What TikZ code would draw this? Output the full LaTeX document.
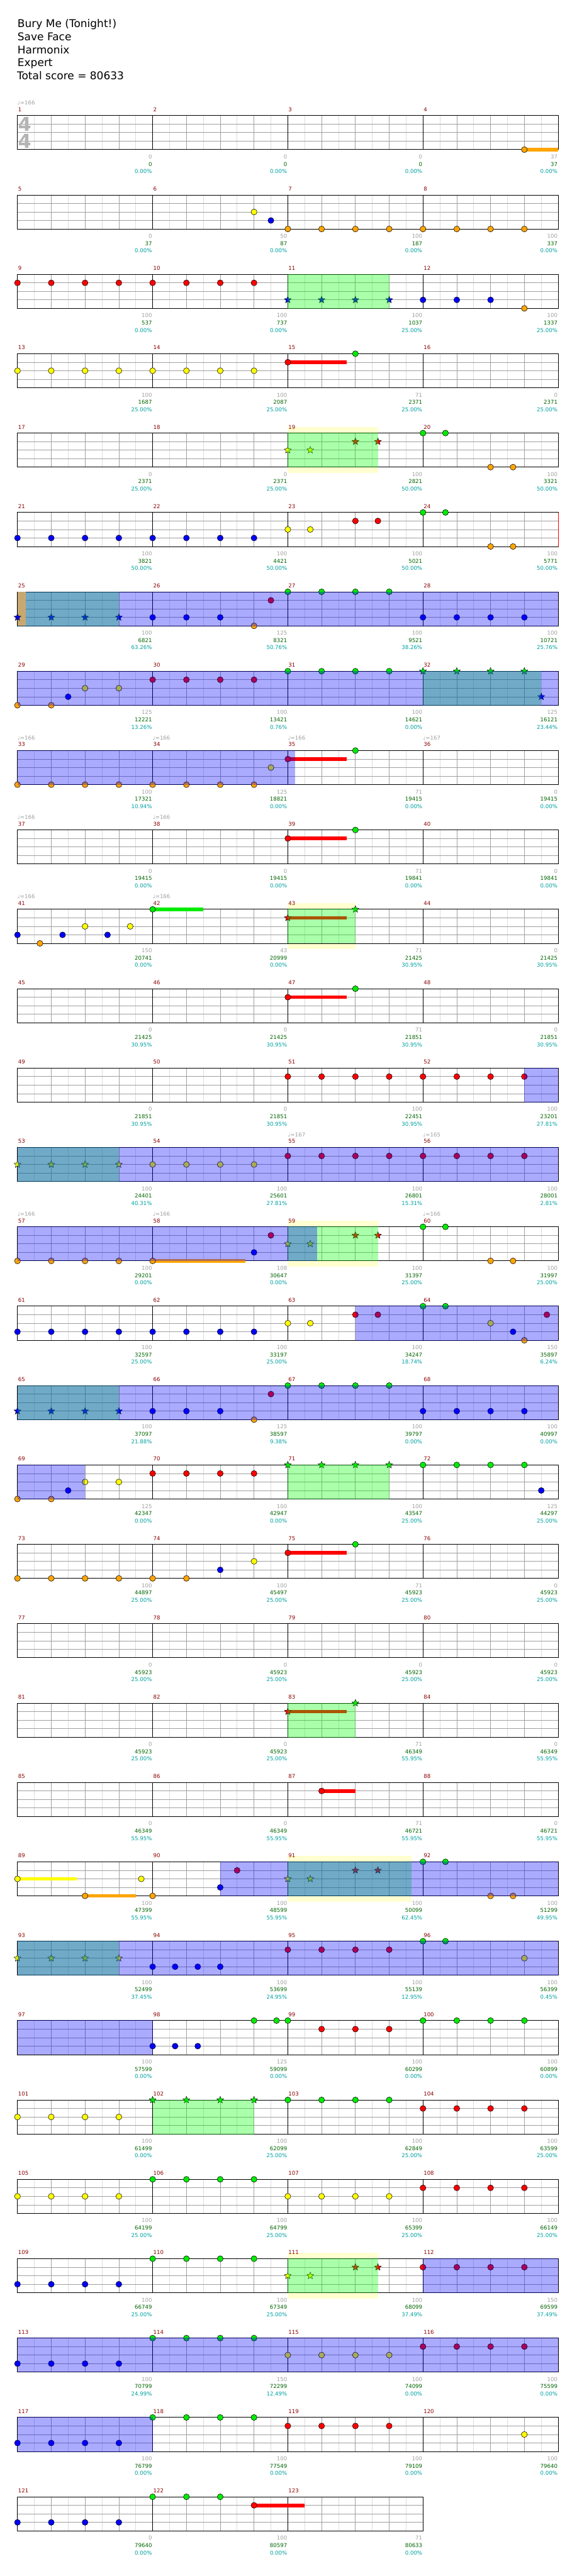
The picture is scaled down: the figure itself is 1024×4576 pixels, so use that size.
\documentclass[tikz,border=0pt]{standalone}
\usepackage{fontspec}
\setmainfont{DejaVu Sans}
\usetikzlibrary{shapes.geometric}

\definecolor{lane0}{RGB}{0,235,0}
\definecolor{lane1}{RGB}{255,0,0}
\definecolor{lane2}{RGB}{255,255,0}
\definecolor{lane3}{RGB}{0,0,255}
\definecolor{lane4}{RGB}{255,165,0}
\definecolor{barred}{RGB}{139,0,0}
\definecolor{ptsgrey}{RGB}{160,160,160}
\definecolor{totgreen}{RGB}{0,100,0}
\definecolor{pctcyan}{RGB}{0,160,160}
\definecolor{halfgrid}{RGB}{220,220,220}
\definecolor{beatgrid}{RGB}{160,160,160}
\definecolor{tsgrey}{RGB}{180,180,180}
\definecolor{bonusyellow}{RGB}{255,255,208}
\definecolor{odstrip}{RGB}{200,168,112}

\tikzset{
  chartrow/.code={\def\rowname{r#1}\tikzset{shift={(31,205.3+141*#1)},x=30pt}},
  gem/.style={circle,draw=black,line width=0.6pt,minimum size=10.5pt,inner sep=0pt},
  stargem/.style={star,star points=5,star point ratio=2.3,draw=black,line width=0.5pt,minimum size=13pt,inner sep=0pt},
  smalltext/.style={font=\fontsize{9.6}{11}\selectfont,inner sep=0pt},
  barnum/.style={smalltext,text=barred,anchor=base west,xshift=1pt},
  ptsnum/.style={smalltext,text=ptsgrey,anchor=base east,xshift=-1pt},
  totnum/.style={smalltext,text=totgreen,anchor=base east,xshift=-1pt},
  pctnum/.style={smalltext,text=pctcyan,anchor=base east,xshift=-1pt},
  tempomark/.style={smalltext,text=ptsgrey,anchor=base west},
  titletext/.style={font=\fontsize{19}{23}\selectfont,anchor=base west,inner sep=0pt},
  timesig/.style={font=\bfseries\fontsize{34}{34}\selectfont,text=tsgrey,inner sep=0pt},
}

% one staff of #2 measures, first measure #1
\newcommand\chartstaff[2]{%
  \pgfmathtruncatemacro\rowend{8*#2}%
  \fill[white] (0,0) rectangle (\rowend,60.5);
  \foreach \i in {1,3,...,\rowend} \draw[halfgrid,line width=0.8pt] (\i,0) -- (\i,60.5);
  \foreach \i in {2,4,...,\rowend} \draw[beatgrid,line width=0.8pt] (\i,0) -- (\i,60.5);
  \foreach \i in {1,2,3} \draw[beatgrid,line width=0.8pt] (0,15.125*\i) -- (\rowend,15.125*\i);
  \foreach \i in {0,8,...,\rowend} \draw[black,line width=0.8pt] (\i,0) -- (\i,60.5);
  \draw[black,line width=1pt] (0,0) rectangle (\rowend,60.5);
  \foreach \i in {1,...,#2}{%
    \pgfmathtruncatemacro\mnum{#1+\i-1}%
    \node[barnum] (m\mnum) at (8*\i-8,-7.3) {\mnum};}%
}
\newcommand\gems[1]{\foreach \gp/\gl [count=\gk] in {#1}
  \node[gem,fill=lane\gl] (\rowname-g\gk) at (\gp,15.125*\gl) {};}
\newcommand\stargems[1]{\foreach \gp/\gl [count=\gk] in {#1}
  \node[stargem,fill=lane\gl] (\rowname-s\gk) at (\gp,15.125*\gl) {};}
\newcommand\sustain[3]{\fill[lane#2] (#1,15.125*#2-3.2) rectangle (#3,15.125*#2+3.2);}
\newcommand\spzone[2]{\fill[green,opacity=0.333] (#1,-0.5) rectangle (#2,61);}
\newcommand\odzone[2]{\fill[blue,opacity=0.333] (#1,-0.5) rectangle (#2,61);}
\newcommand\bonuszone[2]{\fill[bonusyellow] (#1,-10.7) rectangle (#2,71);}
\newcommand\bpm[2]{\node[tempomark] (\rowname-q#1) at (#1,-19.3) {♩=#2};}
\newcommand\scores[1]{\foreach \pa/\pb/\pc [count=\gk] in {#1}{%
  \node[ptsnum] (\rowname-p\gk) at (8*\gk,76.7) {\pa};
  \node[totnum] (\rowname-t\gk) at (8*\gk,89.7) {\pb};
  \node[pctnum] (\rowname-c\gk) at (8*\gk,102.7) {\pc\%};}}

\begin{document}
\begin{tikzpicture}[x=1pt,y=-1pt]
\useasboundingbox (0,0) rectangle (1024,4576);
\fill[white] (0,0) rectangle (1024,4576);

\node[titletext] (song) at (31,49) {Bury Me (Tonight!)};
\node[titletext] (band) at (31,72) {Save Face};
\node[titletext] (author) at (31,95) {Harmonix};
\node[titletext] (level) at (31,118) {Expert};
\node[titletext] (total) at (30,141) {Total score = 80633};

% measures 1-4
\begin{scope}[chartrow=0]
  \chartstaff{1}{4}
  \node[timesig] (ts-up) at (0.43,15) {4};
  \node[timesig] (ts-down) at (0.43,45) {4};
  \sustain{30}{4}{32}
  \gems{30/4}
  \scores{0/0/0.00,0/0/0.00,0/0/0.00,37/37/0.00}
  \bpm{0}{166}
\end{scope}

% measures 5-8
\begin{scope}[chartrow=1]
  \chartstaff{5}{4}
  \gems{14/2,15/3,16/4,18/4,20/4,22/4,24/4,26/4,28/4,30/4}
  \scores{0/37/0.00,50/87/0.00,100/187/0.00,100/337/0.00}
\end{scope}

% measures 9-12
\begin{scope}[chartrow=2]
  \chartstaff{9}{4}
  \gems{0/1,2/1,4/1,6/1,8/1,10/1,12/1,14/1,24/3,26/3,28/3,30/4}
  \stargems{16/3,18/3,20/3,22/3}
  \spzone{16}{22}
  \scores{100/537/0.00,100/737/0.00,100/1037/25.00,100/1337/25.00}
\end{scope}

% measures 13-16
\begin{scope}[chartrow=3]
  \chartstaff{13}{4}
  \sustain{16}{1}{19.5}
  \gems{0/2,2/2,4/2,6/2,8/2,10/2,12/2,14/2,16/1,20/0}
  \scores{100/1687/25.00,100/2087/25.00,71/2371/25.00,0/2371/25.00}
\end{scope}

% measures 17-20
\begin{scope}[chartrow=4]
  \bonuszone{16}{21.33}
  \chartstaff{17}{4}
  \gems{24/0,25.33/0,28/4,29.33/4}
  \stargems{16/2,17.33/2,20/1,21.33/1}
  \spzone{16}{21.33}
  \scores{0/2371/25.00,0/2371/25.00,100/2821/50.00,100/3321/50.00}
\end{scope}

% measures 21-24
\begin{scope}[chartrow=5]
  \chartstaff{21}{4}
  \draw[red,line width=1pt] (32,0) -- (32,60.5);
  \gems{0/3,2/3,4/3,6/3,8/3,10/3,12/3,14/3,16/2,17.33/2,20/1,21.33/1,24/0,25.33/0,28/4,29.33/4}
  \scores{100/3821/50.00,100/4421/50.00,100/5021/50.00,100/5771/50.00}
\end{scope}

% measures 25-28
\begin{scope}[chartrow=6]
  \chartstaff{25}{4}
  \gems{8/3,10/3,12/3,14/4,15/1,16/0,18/0,20/0,22/0,24/3,26/3,28/3,30/3}
  \stargems{2/3,4/3,6/3}
  \spzone{0}{6}
  \odzone{0}{32}
  \fill[odstrip] (0,0) rectangle (0.48,60.5);
  \node[stargem,fill=lane3] (r6-s0) at (0,45.375) {};
  \scores{100/6821/63.26,125/8321/50.76,100/9521/38.26,100/10721/25.76}
\end{scope}

% measures 29-32
\begin{scope}[chartrow=7]
  \chartstaff{29}{4}
  \gems{0/4,2/4,3/3,4/2,6/2,8/1,10/1,12/1,14/1,16/0,18/0,20/0,22/0}
  \stargems{24/0,26/0,28/0,30/0,31/3}
  \spzone{24}{31}
  \odzone{0}{32}
  \scores{125/12221/13.26,100/13421/0.76,100/14621/0.00,125/16121/23.44}
\end{scope}

% measures 33-36
\begin{scope}[chartrow=8]
  \chartstaff{33}{4}
  \sustain{16}{1}{19.5}
  \gems{0/4,2/4,4/4,6/4,8/4,10/4,12/4,14/4,15/2,16/1,20/0}
  \odzone{0}{16.45}
  \scores{100/17321/10.94,125/18821/0.00,71/19415/0.00,0/19415/0.00}
  \bpm{0}{166} \bpm{8}{166} \bpm{16}{166} \bpm{24}{167}
\end{scope}

% measures 37-40
\begin{scope}[chartrow=9]
  \chartstaff{37}{4}
  \sustain{16}{1}{19.5}
  \gems{16/1,20/0}
  \scores{0/19415/0.00,0/19415/0.00,71/19841/0.00,0/19841/0.00}
  \bpm{0}{166} \bpm{8}{166}
\end{scope}

% measures 41-44
\begin{scope}[chartrow=10]
  \bonuszone{16}{20}
  \chartstaff{41}{4}
  \sustain{8}{0}{11}
  \sustain{16}{1}{19.5}
  \gems{0/3,1.33/4,2.67/3,4/2,5.33/3,6.67/2,8/0}
  \stargems{16/1,20/0}
  \spzone{16}{20}
  \scores{150/20741/0.00,43/20999/0.00,71/21425/30.95,0/21425/30.95}
  \bpm{0}{166} \bpm{8}{166}
\end{scope}

% measures 45-48
\begin{scope}[chartrow=11]
  \chartstaff{45}{4}
  \sustain{16}{1}{19.5}
  \gems{16/1,20/0}
  \scores{0/21425/30.95,0/21425/30.95,71/21851/30.95,0/21851/30.95}
\end{scope}

% measures 49-52
\begin{scope}[chartrow=12]
  \chartstaff{49}{4}
  \gems{16/1,18/1,20/1,22/1,24/1,26/1,28/1,30/1}
  \odzone{30}{32}
  \scores{0/21851/30.95,0/21851/30.95,100/22451/30.95,100/23201/27.81}
\end{scope}

% measures 53-56
\begin{scope}[chartrow=13]
  \chartstaff{53}{4}
  \gems{8/2,10/2,12/2,14/2,16/1,18/1,20/1,22/1,24/1,26/1,28/1,30/1}
  \stargems{0/2,2/2,4/2,6/2}
  \spzone{0}{6}
  \odzone{0}{32}
  \scores{100/24401/40.31,100/25601/27.81,100/26801/15.31,100/28001/2.81}
  \bpm{16}{167} \bpm{24}{165}
\end{scope}

% measures 57-60
\begin{scope}[chartrow=14]
  \bonuszone{16}{21.33}
  \chartstaff{57}{4}
  \sustain{8}{4}{13.5}
  \gems{0/4,2/4,4/4,6/4,8/4,14/3,15/1,24/0,25.33/0,28/4,29.33/4}
  \stargems{16/2,17.33/2,20/1,21.33/1}
  \spzone{16}{21.33}
  \odzone{0}{17.74}
  \scores{100/29201/0.00,108/30647/0.00,100/31397/25.00,100/31997/25.00}
  \bpm{0}{166} \bpm{8}{166} \bpm{24}{166}
\end{scope}

% measures 61-64
\begin{scope}[chartrow=15]
  \chartstaff{61}{4}
  \gems{0/3,2/3,4/3,6/3,8/3,10/3,12/3,14/3,16/2,17.33/2,20/1,21.33/1,24/0,25.33/0,28/2,29.33/3,30/4,31.33/1}
  \odzone{20}{32}
  \scores{100/32597/25.00,100/33197/25.00,100/34247/18.74,150/35897/6.24}
\end{scope}

% measures 65-68
\begin{scope}[chartrow=16]
  \chartstaff{65}{4}
  \gems{8/3,10/3,12/3,14/4,15/1,16/0,18/0,20/0,22/0,24/3,26/3,28/3,30/3}
  \stargems{0/3,2/3,4/3,6/3}
  \spzone{0}{6}
  \odzone{0}{32}
  \scores{100/37097/21.88,125/38597/9.38,100/39797/0.00,100/40997/0.00}
\end{scope}

% measures 69-72
\begin{scope}[chartrow=17]
  \chartstaff{69}{4}
  \gems{0/4,2/4,3/3,4/2,6/2,8/1,10/1,12/1,14/1,24/0,26/0,28/0,30/0,31/3}
  \stargems{16/0,18/0,20/0,22/0}
  \spzone{16}{22}
  \odzone{0}{4}
  \scores{125/42347/0.00,100/42947/0.00,100/43547/25.00,125/44297/25.00}
\end{scope}

% measures 73-76
\begin{scope}[chartrow=18]
  \chartstaff{73}{4}
  \sustain{16}{1}{19.5}
  \gems{0/4,2/4,4/4,6/4,8/4,10/4,12/3,14/2,16/1,20/0}
  \scores{100/44897/25.00,100/45497/25.00,71/45923/25.00,0/45923/25.00}
\end{scope}

% measures 77-80
\begin{scope}[chartrow=19]
  \chartstaff{77}{4}
  \scores{0/45923/25.00,0/45923/25.00,0/45923/25.00,0/45923/25.00}
\end{scope}

% measures 81-84
\begin{scope}[chartrow=20]
  \chartstaff{81}{4}
  \sustain{16}{1}{19.5}
  \stargems{16/1,20/0}
  \spzone{16}{20}
  \scores{0/45923/25.00,0/45923/25.00,71/46349/55.95,0/46349/55.95}
\end{scope}

% measures 85-88
\begin{scope}[chartrow=21]
  \chartstaff{85}{4}
  \sustain{18}{1}{20}
  \gems{18/1}
  \scores{0/46349/55.95,0/46349/55.95,71/46721/55.95,0/46721/55.95}
\end{scope}

% measures 89-92
\begin{scope}[chartrow=22]
  \bonuszone{16}{23.33}
  \chartstaff{89}{4}
  \sustain{0}{2}{3.5}
  \sustain{4}{4}{7}
  \gems{0/2,4/4,7.33/2,8/4,12/3,13/1,24/0,25.33/0,28/4,29.33/4}
  \stargems{16/2,17.33/2,20/1,21.33/1}
  \spzone{16}{23.33}
  \odzone{12}{32}
  \scores{100/47399/55.95,100/48599/55.95,100/50099/62.45,100/51299/49.95}
\end{scope}

% measures 93-96
\begin{scope}[chartrow=23]
  \chartstaff{93}{4}
  \gems{8/3,9.33/3,10.67/3,12/3,16/1,18/1,20/1,22/1,24/0,25.33/0,30/2}
  \stargems{0/2,2/2,4/2,6/2}
  \spzone{0}{6}
  \odzone{0}{32}
  \scores{100/52499/37.45,100/53699/24.95,100/55139/12.95,100/56399/0.45}
\end{scope}

% measures 97-100
\begin{scope}[chartrow=24]
  \chartstaff{97}{4}
  \gems{8/3,9.33/3,10.67/3,14/0,15.33/0,16/0,18/1,20/1,22/1,24/0,26/0,28/0,30/0}
  \odzone{0}{8}
  \scores{100/57599/0.00,125/59099/0.00,100/60299/0.00,100/60899/0.00}
\end{scope}

% measures 101-104
\begin{scope}[chartrow=25]
  \chartstaff{101}{4}
  \gems{0/2,2/2,4/2,6/2,16/0,18/0,20/0,22/0,24/1,26/1,28/1,30/1}
  \stargems{8/0,10/0,12/0,14/0}
  \spzone{8}{14}
  \scores{100/61499/0.00,100/62099/25.00,100/62849/25.00,100/63599/25.00}
\end{scope}

% measures 105-108
\begin{scope}[chartrow=26]
  \chartstaff{105}{4}
  \gems{0/2,2/2,4/2,6/2,8/0,10/0,12/0,14/0,16/2,18/2,20/2,22/2,24/1,26/1,28/1,30/1}
  \scores{100/64199/25.00,100/64799/25.00,100/65399/25.00,100/66149/25.00}
\end{scope}

% measures 109-112
\begin{scope}[chartrow=27]
  \bonuszone{16}{21.33}
  \chartstaff{109}{4}
  \gems{0/3,2/3,4/3,6/3,8/0,10/0,12/0,14/0,24/1,26/1,28/1,30/1}
  \stargems{16/2,17.33/2,20/1,21.33/1}
  \spzone{16}{21.33}
  \odzone{24}{32}
  \scores{100/66749/25.00,100/67349/25.00,100/68099/37.49,150/69599/37.49}
\end{scope}

% measures 113-116
\begin{scope}[chartrow=28]
  \chartstaff{113}{4}
  \gems{0/3,2/3,4/3,6/3,8/0,10/0,12/0,14/0,16/2,18/2,20/2,22/2,24/1,26/1,28/1,30/1}
  \odzone{0}{32}
  \scores{100/70799/24.99,150/72299/12.49,100/74099/0.00,100/75599/0.00}
\end{scope}

% measures 117-120
\begin{scope}[chartrow=29]
  \chartstaff{117}{4}
  \gems{0/3,2/3,4/3,6/3,8/0,10/0,12/0,14/0,16/1,18/1,20/1,22/1,30/2}
  \odzone{0}{8}
  \scores{100/76799/0.00,100/77549/0.00,100/79109/0.00,100/79640/0.00}
\end{scope}

% measures 121-123
\begin{scope}[chartrow=30]
  \chartstaff{121}{3}
  \sustain{14}{1}{17}
  \gems{0/3,2/3,4/3,6/3,8/0,10/0,12/0,14/1}
  \scores{0/79640/0.00,100/80597/0.00,71/80633/0.00}
\end{scope}
\end{tikzpicture}
\end{document}
